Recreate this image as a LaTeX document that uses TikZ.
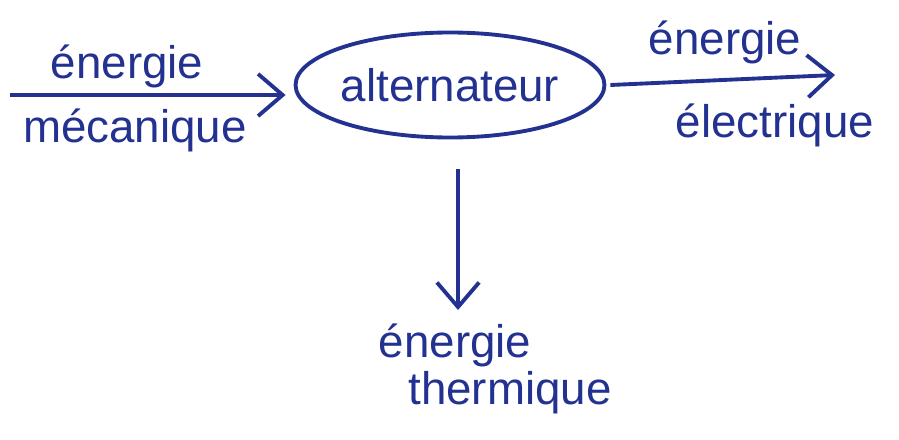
\documentclass[tikz,border=0pt]{standalone}
\usepackage{fontspec}
\setmainfont{Liberation Sans}
\usetikzlibrary{positioning,arrows.meta,shapes.geometric}
\definecolor{encre}{RGB}{35,50,145}
\tikzset{
  fleche/.style={encre, line width=1.1pt, -{Straight Barb[length=7pt,width=12pt]}},
  txt/.style={encre, font=\fontsize{13}{15}\selectfont, inner sep=0pt},
}
\begin{document}
\begin{tikzpicture}[x=1cm,y=1cm]
			\useasboundingbox (0,0) rectangle (8.99,-4.39);
			\node[ellipse, draw=encre, line width=1.1pt, minimum width=3cm, minimum height=1.05cm, inner sep=0pt, txt] (alt) at (4.5,-0.85) {alternateur};
			\coordinate (gA) at (0.1,-0.95);
			\coordinate (dB) at (8.35,-0.75);
			\coordinate (bC) at (4.58,-3.1);
			\draw[fleche] (gA) -- ([xshift=-0.08cm]alt.west|-gA) coordinate (gB);
			\draw[fleche] (alt.east) ++(0.04,0) coordinate (dA) -- (dB);
			\draw[fleche] (alt.south-|bC) ++(0,-0.3) coordinate (bA) -- (bC);
			\node[txt] (meca1) at (1.27,-0.66) {énergie};
			\node[txt] (meca2) at (1.35,-1.3) {mécanique};
			\node[txt] (elec1) at (7.25,-0.42) {énergie};
			\node[txt] (elec2) at (7.75,-1.25) {électrique};
			\node[txt] (ther1) at (4.55,-3.45) {énergie};
			\node[txt] (ther2) at (5.1,-3.93) {thermique};
		\end{tikzpicture}
\end{document}
